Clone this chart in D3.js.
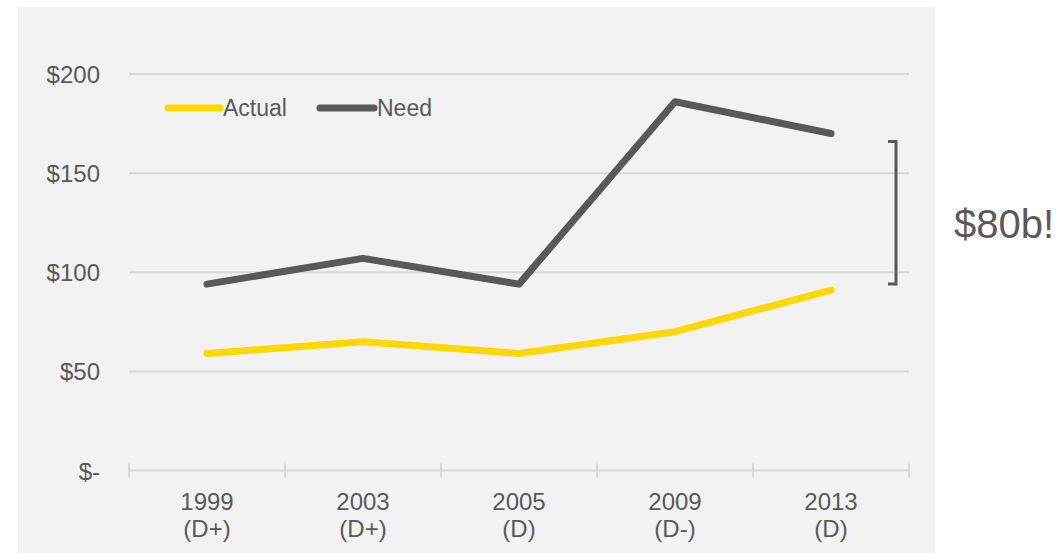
<html>
<head>
  <title>Actual vs Need</title>
</head>
<style>
  body { margin: 0; background: #fff; }
  svg text { font-family: "Liberation Sans", Arial, sans-serif; fill: #595959; }
</style>
<body>
  <div id="chart"></div>
</body>
<script src="https://cdn.jsdelivr.net/npm/d3@7"></script>
<script>

  let years = ["1999", "2003", "2005", "2009", "2013"];
  let grades = ["(D+)", "(D+)", "(D)", "(D-)", "(D)"];
  let actual = [59, 65, 59, 70, 91];
  let need = [94, 107, 94, 186, 170];
  let yTicks = [0, 50, 100, 150, 200];

  let width = 1059, height = 553;

  let svg = d3.select("#chart").append("svg")
    .attr("width", width)
    .attr("height", height);

  // panel background
  svg.append("rect")
    .attr("x", 18).attr("y", 7)
    .attr("width", 917).attr("height", height - 7)
    .attr("fill", "#f2f2f2");

  let x = d3.scaleBand().domain(years).range([129, 909]);
  let y = d3.scaleLinear().domain([0, 200]).range([470.5, 74]);

  // gridlines
  svg.selectAll(".grid")
    .data(yTicks.filter(d => d > 0))
    .join("line")
    .attr("x1", 129).attr("x2", 909)
    .attr("y1", d => y(d)).attr("y2", d => y(d))
    .attr("stroke", "#d9d9d9").attr("stroke-width", 2);

  // x axis line + ticks
  svg.append("line")
    .attr("x1", 129).attr("x2", 909)
    .attr("y1", y(0)).attr("y2", y(0))
    .attr("stroke", "#d9d9d9").attr("stroke-width", 2);
  let tickPos = years.map(d => x(d)).concat([x.range()[1]]);
  svg.selectAll(".xtick")
    .data(tickPos)
    .join("line")
    .attr("x1", d => d).attr("x2", d => d)
    .attr("y1", y(0) - 7).attr("y2", y(0) + 7)
    .attr("stroke", "#d9d9d9").attr("stroke-width", 2);

  // y labels
  svg.selectAll(".ylab")
    .data(yTicks)
    .join("text")
    .attr("x", 100)
    .attr("y", d => y(d) + 9)
    .attr("text-anchor", "end")
    .attr("font-size", 24)
    .text(d => d === 0 ? "$-" : "$" + d);

  // x labels
  let xl = svg.selectAll(".xlab")
    .data(years)
    .join("text")
    .attr("text-anchor", "middle")
    .attr("font-size", 24);
  xl.append("tspan")
    .attr("x", d => x(d) + x.bandwidth() / 2)
    .attr("y", 510)
    .text(d => d);
  xl.append("tspan")
    .attr("x", d => x(d) + x.bandwidth() / 2)
    .attr("y", 537)
    .text((d, i) => grades[i]);

  let line = d3.line()
    .x((d, i) => x(years[i]) + x.bandwidth() / 2)
    .y(d => y(d));

  svg.append("path")
    .datum(need)
    .attr("d", line)
    .attr("fill", "none")
    .attr("stroke", "#595959")
    .attr("stroke-width", 7)
    .attr("stroke-linecap", "round")
    .attr("stroke-linejoin", "round");

  svg.append("path")
    .datum(actual)
    .attr("d", line)
    .attr("fill", "none")
    .attr("stroke", "#ffd800")
    .attr("stroke-width", 7)
    .attr("stroke-linecap", "round")
    .attr("stroke-linejoin", "round");

  // legend
  let legend = [
    { name: "Actual", color: "#ffd800", x0: 168, x1: 220 },
    { name: "Need", color: "#595959", x0: 320, x1: 374 }
  ];
  legend.forEach(l => {
    svg.append("line")
      .attr("x1", l.x0).attr("x2", l.x1)
      .attr("y1", 108).attr("y2", 108)
      .attr("stroke", l.color).attr("stroke-width", 7)
      .attr("stroke-linecap", "round");
    svg.append("text")
      .attr("x", l.x1 + 3).attr("y", 116)
      .attr("font-size", 23)
      .text(l.name);
  });

  // gap bracket
  let last = years.length - 1;
  let bx = 896;
  svg.append("path")
    .attr("d", `M${bx - 8},${y(need[last]) + 8} H${bx} V${y(actual[last]) - 6} H${bx - 8}`)
    .attr("fill", "none")
    .attr("stroke", "#595959")
    .attr("stroke-width", 3);

  svg.append("text")
    .attr("x", 954).attr("y", 238)
    .attr("font-size", 40)
    .text("$80b!");

</script>
</html>
